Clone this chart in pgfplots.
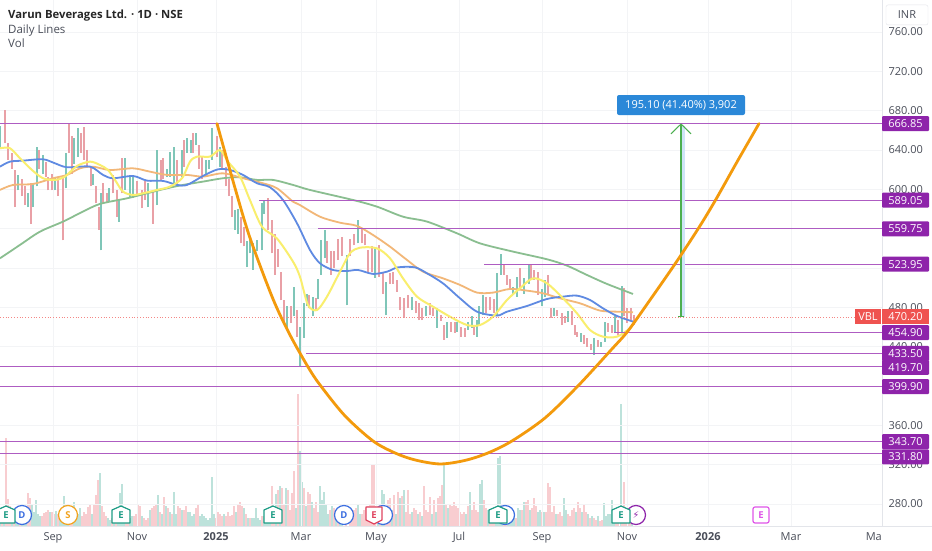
\documentclass[border=0pt]{standalone}
\usepackage{pgfplots}
\usepackage{pgfplotstable}
\usepackage{fontspec}
\setmainfont{Open Sans}
\pgfplotsset{compat=1.18}
\definecolor{txt}{HTML}{4A4E59}
\definecolor{gridc}{HTML}{F3F4F6}
\definecolor{frame}{HTML}{E3E5EA}
\definecolor{cup}{HTML}{7FC6B8}
\definecolor{cdn}{HTML}{E9A0A6}
\definecolor{vup}{HTML}{BDE2DB}
\definecolor{vdn}{HTML}{F8CDD0}
\definecolor{hline}{HTML}{AE5CC2}
\definecolor{tagp}{HTML}{8E24AA}
\definecolor{tagr}{HTML}{EF5350}
\definecolor{ema}{HTML}{F9EE6D}
\definecolor{bma}{HTML}{5F8AE2}
\definecolor{oma}{HTML}{F2B778}
\definecolor{gma}{HTML}{8ABE90}
\definecolor{cupc}{HTML}{F39A0C}
\definecolor{mgreen}{HTML}{4CAF50}
\definecolor{mband}{HTML}{CFE4F7}
\definecolor{callout}{HTML}{2B88D8}
\definecolor{badgeE}{HTML}{1F9D86}
\definecolor{badgeD}{HTML}{3D6FE0}
\definecolor{badgeS}{HTML}{F2A31E}
\definecolor{badgeR}{HTML}{E04560}
\definecolor{badgeM}{HTML}{E056E8}
\pgfplotstableread{
x lo hi c
0 642 664 1
5 647 681 0
8 630 647 0
12 621 637 0
15 582 620 0
18 599 615 1
22 593 611 0
25 584 603 0
28 582 596 1
31 565 606 0
33 582 606 1
37 603 643 1
39 621 640 0
43 616 635 1
46 613 628 0
48 599 613 0
52 599 616 0
55 599 613 1
58 593 613 0
63 548 613 0
66 601 637 1
69 637 667 0
72 616 654 0
74 626 652 1
78 633 662 1
81 637 657 0
84 630 663 0
87 623 640 0
91 603 623 0
93 604 616 1
96 586 603 0
99 559 582 0
101 538 596 1
103 586 606 0
107 586 596 0
109 587 601 1
113 596 615 0
117 572 599 0
119 567 589 1
122 596 632 0
125 599 632 1
130 591 615 1
133 591 615 1
137 593 608 0
142 581 599 0
145 589 608 0
148 582 606 1
153 565 598 0
157 584 640 1
161 610 630 0
163 611 632 0
167 613 621 1
170 613 638 1
174 604 643 1
177 603 630 0
182 613 640 1
184 623 650 0
187 637 652 1
191 637 650 1
193 637 657 0
196 645 657 1
199 621 645 0
202 611 633 0
206 615 630 1
209 621 630 1
212 630 662 1
217 633 654 0
220 623 643 1
222 620 640 0
226 603 623 0
229 593 611 0
232 572 593 0
235 559 579 1
238 555 580 1
241 545 572 0
244 542 562 0
247 521 547 1
250 535 549 1
253 518 545 1
257 537 549 1
262 538 586 1
264 575 589 1
268 559 591 0
272 535 569 0
275 513 555 0
278 521 539 0
281 487 516 0
284 464 487 0
287 457 481 1
291 464 481 0
294 471 501 1
297 450 477 0
300 420 460 1
304 449 484 1
307 481 494 1
309 479 493 0
313 471 491 1
316 477 489 0
318 488 509 1
321 513 549 1
325 530 559 1
327 525 547 0
331 513 537 0
334 520 537 0
338 528 550 0
342 532 552 0
347 482 533 1
350 532 550 0
354 543 555 0
358 545 569 1
362 545 560 0
365 543 555 0
368 516 538 0
372 516 542 0
375 510 540 1
379 511 543 0
383 494 515 0
386 472 506 1
390 504 515 0
393 504 516 0
397 496 508 0
400 477 491 0
404 469 489 0
408 479 493 0
412 477 491 1
416 474 486 0
419 467 484 0
422 467 479 0
426 471 481 1
430 472 484 0
433 471 479 0
437 459 479 1
441 466 472 0
444 447 462 0
447 449 465 1
451 455 465 0
455 454 465 0
457 455 465 1
461 450 460 0
465 450 459 0
468 457 465 1
472 459 471 1
474 452 460 0
477 450 467 1
479 462 481 1
483 472 493 1
486 474 491 0
490 477 491 0
494 474 488 0
497 471 515 1
501 513 534 1
504 513 523 0
507 503 513 0
510 498 509 0
513 493 501 1
517 491 511 1
520 499 520 0
524 494 510 1
529 504 523 1
531 508 523 0
534 508 518 0
538 493 516 0
542 481 499 1
545 491 508 1
548 494 513 0
551 469 479 0
554 471 479 1
557 471 477 0
562 462 474 0
565 464 471 0
568 465 476 1
572 462 476 0
575 452 462 0
577 450 455 0
581 445 454 1
584 443 452 0
587 440 449 0
591 437 443 0
594 432 449 1
598 440 447 0
601 440 445 1
605 445 465 1
608 455 464 0
612 454 462 0
615 455 471 1
618 452 467 0
622 455 502 1
624 471 500 0
627 464 479 0
631 467 479 0
634 462 472 0
}\candles
\newcommand\hl[2]{\addplot[hline,line width=0.9pt,forget plot] coordinates {(#1,#2)(882,#2)};}
\newcommand\tagp[2]{\node[fill=tagp,text=white,font=\fontsize{11}{11}\selectfont,minimum width=47pt,minimum height=15pt,inner sep=0pt,rounded corners=1pt] at (axis cs:905.5,#1) {#2};}
\newcommand\ebadge[3]{\draw[#3,fill=white,line width=1.2pt,line join=round] (axis cs:#1,#2) ++(0pt,9pt) -- ++(9pt,-4pt) -- ++(0pt,-13pt) -- ++(-18pt,0pt) -- ++(0pt,13pt) -- cycle;
\node[text=#3,font=\fontsize{9.5}{10}\bfseries\selectfont,inner sep=0pt] at (axis cs:#1,#2) {E};}
\newcommand\cbadge[4]{\node[circle,draw=#3,fill=white,line width=1.2pt,minimum size=19pt,inner sep=0pt,text=#3,font=\fontsize{9.5}{10}\bfseries\selectfont] at (axis cs:#1,#2) {#4};}
\begin{document}
\begin{tikzpicture}
\useasboundingbox (0pt,0pt) rectangle (932pt,550pt);
\fill[white] (0pt,0pt) rectangle (932pt,550pt);
% volume pane
\begin{axis}[at={(0pt,24pt)},anchor=south west,width=882pt,height=526pt,scale only axis,
 xmin=0,xmax=882,ymin=0,ymax=526,hide axis,clip=true]
\addplot[ycomb,vup,line width=1.1pt,no marks] coordinates {(0,16)(4,10)(12,18)(16,10)(18,14)(22,10)(24,8)(26,14)(32,22)(34,14)(36,26)(38,12)(40,10)(50,14)(56,15)(60,12)(62,10)(64,30)(66,22)(68,12)(74,24)(76,12)(78,12)(80,18)(92,12)(100,53)(108,8)(110,6)(114,12)(118,14)(120,33)(122,42)(124,12)(130,8)(132,10)(142,10)(150,16)(158,31)(162,12)(166,20)(170,14)(174,34)(176,12)(182,16)(188,14)(190,14)(192,10)(194,12)(200,10)(202,12)(204,10)(206,8)(208,6)(210,8)(212,49)(214,12)(224,12)(236,14)(244,18)(248,8)(252,8)(254,8)(256,18)(258,8)(260,6)(264,10)(266,14)(268,14)(270,14)(276,32)(280,40)(286,38)(296,18)(300,75)(302,44)(306,20)(312,24)(320,40)(322,26)(324,34)(326,22)(328,12)(332,20)(336,12)(340,18)(342,14)(358,22)(360,12)(378,14)(382,36)(384,32)(392,16)(396,12)(400,28)(404,36)(412,14)(418,12)(422,10)(432,12)(436,14)(444,63)(448,18)(466,12)(470,34)(480,42)(482,46)(488,16)(496,16)(498,68)(500,70)(502,14)(508,12)(510,14)(512,10)(514,14)(518,18)(520,16)(524,24)(530,16)(538,14)(540,16)(544,14)(556,12)(564,28)(566,16)(576,14)(582,14)(588,12)(592,10)(598,10)(604,23)(606,10)(608,12)(610,12)(612,26)(614,14)(621,122)(632,10)};
\addplot[ycomb,vdn,line width=1.1pt,no marks] coordinates {(2,14)(6,88)(8,27)(10,20)(14,12)(20,12)(28,33)(30,28)(42,10)(44,13)(46,14)(48,16)(52,14)(54,12)(58,12)(70,12)(72,14)(82,10)(84,14)(86,12)(88,19)(90,22)(94,22)(96,31)(98,46)(102,20)(104,14)(106,10)(112,8)(116,10)(126,10)(128,6)(134,10)(136,12)(138,22)(140,20)(144,8)(146,6)(148,8)(152,18)(154,20)(156,22)(160,14)(164,29)(168,18)(172,12)(178,20)(180,18)(184,16)(186,20)(196,18)(198,22)(216,8)(218,14)(220,12)(222,10)(226,10)(228,14)(230,10)(232,11)(234,20)(238,22)(240,24)(242,20)(246,12)(250,8)(262,10)(272,40)(274,14)(278,36)(282,38)(284,22)(288,36)(290,16)(292,33)(294,55)(298,132)(304,38)(308,34)(310,32)(314,18)(316,24)(318,14)(330,16)(334,18)(338,12)(346,10)(350,10)(352,12)(354,16)(356,18)(362,12)(364,16)(366,18)(368,20)(370,22)(372,62)(374,62)(376,20)(380,22)(386,20)(388,26)(390,28)(394,31)(398,34)(402,30)(406,14)(408,36)(410,12)(414,18)(416,16)(420,14)(424,40)(426,16)(428,14)(430,29)(434,26)(438,28)(440,30)(442,41)(446,22)(450,22)(452,20)(454,24)(456,20)(458,18)(460,14)(462,12)(464,14)(468,20)(472,16)(474,24)(476,16)(478,14)(484,26)(486,18)(490,12)(492,10)(494,8)(504,12)(506,10)(516,8)(522,16)(526,24)(528,26)(532,18)(534,28)(536,20)(542,14)(546,14)(548,43)(550,39)(552,14)(554,20)(558,12)(560,14)(562,10)(568,12)(570,10)(572,16)(574,18)(578,24)(580,18)(584,22)(586,14)(590,8)(594,8)(596,6)(600,5)(602,6)(616,10)(618,14)(622,10)(624,44)(626,14)(628,10)(630,8)};
\end{axis}
% price pane
\begin{axis}[at={(0pt,24pt)},anchor=south west,width=882pt,height=526pt,scale only axis,
 xmin=0,xmax=882,ymin=257.6,ymax=792.6,clip=false,
 axis x line*=bottom,axis y line*=right,
 axis line style={draw=frame,line width=0.8pt,-},
 major tick length=0pt,
 xtick={53,137,216,301,376,459,542,627,708,791},
 xticklabels={Sep,Nov,\textbf{2025},Mar,May,Jul,Sep,Nov,\textbf{2026},Mar},
 ytick={280,320,360,400,440,480,520,560,600,640,680,720,760},
 yticklabels={280.00,320.00,360.00,,440.00,480.00,,,600.00,640.00,680.00,720.00,760.00},
 grid=major,major grid style={gridc,line width=0.7pt},
 yticklabel pos=right,
 ticklabel style={font=\fontsize{11}{11}\selectfont,text=txt},
 xticklabel style={yshift=-3pt},
 yticklabel style={xshift=3pt},
]
% candles
\addplot[draw=none,no marks,x filter/.expression={\thisrow{c}==0 ? x : nan},
 error bars/.cd,y dir=plus,y explicit,error mark=none,error bar style={cdn,line width=1.2pt}]
 table[x=x,y=lo,y error plus expr=\thisrow{hi}-\thisrow{lo}] {\candles};
\addplot[draw=none,no marks,x filter/.expression={\thisrow{c}==1 ? x : nan},
 error bars/.cd,y dir=plus,y explicit,error mark=none,error bar style={cup,line width=1.2pt}]
 table[x=x,y=lo,y error plus expr=\thisrow{hi}-\thisrow{lo}] {\candles};
% moving averages
\addplot[gma,line width=1.8pt,smooth,no marks] coordinates {(0,529.9)(20,543.5)(40,557)(63,567.2)(83,577.4)(100,585.2)(127,590.9)(147,596)(167,601.1)(183,604.5)(203,607.9)(223,611.3)(240,612.3)(257,609.6)(273,609.6)(293,604.5)(310,599.4)(353,589.2)(377,582.4)(403,572.2)(427,567.2)(457,555.3)(480,545.1)(513,536.7)(547,528.9)(567,522.4)(587,512.9)(607,503.8)(633,493.6)};
\addplot[oma,line width=1.8pt,smooth,no marks] coordinates {(0,599.4)(13,604.5)(33,605.5)(53,611.3)(67,614.7)(80,621.4)(93,623.1)(110,619.7)(133,621.4)(150,618)(167,614.7)(187,614.7)(203,613)(223,616.3)(243,611.3)(263,606.2)(277,601.1)(293,587.5)(300,584)(320,572.2)(340,566.1)(357,562.8)(373,553.6)(390,541.7)(407,528.2)(423,516.3)(443,509.5)(460,502.8)(477,495)(493,495)(510,498.7)(527,497)(543,494.3)(560,489.2)(580,484.1)(600,476.7)(617,475.6)(633,475)};
\addplot[bma,line width=1.8pt,smooth,no marks] coordinates {(0,623.1)(10,628.2)(23,629.2)(43,630.6)(55,626.5)(67,622.5)(90,623.1)(103,614.7)(113,611.3)(133,613.6)(147,608.9)(163,608.6)(177,604.5)(187,604.5)(203,613.6)(218,620.4)(230,619.7)(243,614.7)(257,606.2)(270,602.1)(283,589.2)(297,565.5)(310,538.3)(320,524.8)(333,518)(347,517)(358,518)(373,514)(387,516.3)(398,520.7)(415,520.7)(427,514.6)(443,504.4)(460,489.2)(477,475.6)(497,471.6)(507,475.6)(527,481.4)(547,488.5)(563,490.9)(577,491.9)(590,487.5)(603,479)(617,471.2)(633,465.5)};
\addplot[ema,line width=2pt,smooth,no marks] coordinates {(0,641.8)(10,641.8)(20,631.6)(32,619.7)(43,611.3)(55,609.6)(65,613)(77,623.8)(90,628.2)(100,624.8)(108,619.7)(115,609.6)(123,597.7)(133,594.3)(143,596)(157,599.4)(170,602.8)(182,611.3)(190,628.2)(197,633.3)(210,633.3)(220,640)(228,628.2)(240,613)(250,589)(262,562)(277,550)(293,526.5)(300,511)(308,482.4)(317,477.3)(327,490.9)(340,516.3)(350,535)(360,540.7)(377,540)(390,529.9)(403,509.5)(417,490.9)(433,480.7)(450,470.5)(467,462)(480,462)(493,470.5)(507,487.5)(520,499.4)(533,509.5)(547,504.4)(563,489.2)(577,473.9)(590,457)(603,450.2)(617,450.2)(630,458.7)(634,465)};
% horizontal levels
\hl{0}{666.85}\hl{259}{589.05}\hl{318}{559.75}\hl{484}{523.95}\hl{614}{454.90}\hl{306}{433.50}\hl{0}{419.70}\hl{0}{399.90}\hl{0}{343.70}\hl{0}{331.80}
% last price
\addplot[tagr!70!white,line width=0.8pt,dotted] coordinates {(0,470.2)(882,470.2)};
% measure
\addplot[mband,line width=3pt] coordinates {(683,470.2)(683,664)};
\addplot[mgreen,line width=1.5pt] coordinates {(681,470.2)(681,665.5)};
\addplot[mgreen,line width=1pt] coordinates {(671,656.5)(681,666.5)(691,656.5)};
\addplot[mgreen,line width=1pt] coordinates {(678,470.2)(684,470.2)};
% cup curve
\addplot[cupc,line width=2.8pt,smooth,no marks,line cap=round] coordinates {(217,666.85)(235,601.4)(250,550.6)(273,488.5)(290,451.9)(308,419.4)(320,401.1)(345,369.6)(373,344.1)(395,331.9)(415,324.8)(440,320.7)(465,324.3)(488,331.9)(512,344.1)(545,367.5)(578,400.1)(612,437.7)(628,456)(650,487.5)(675,524.1)(698,559.7)(715,588.2)(737,627.9)(759,666.85)};
% right-hand tags
\tagp{666.85}{666.85}\tagp{589.05}{589.05}\tagp{559.75}{559.75}\tagp{523.95}{523.95}
\tagp{454.40}{454.90}\tagp{433.2}{433.50}\tagp{418.9}{419.70}\tagp{399.4}{399.90}
\tagp{343.4}{343.70}\tagp{328}{331.80}
\node[fill=tagr,text=white,font=\fontsize{11}{11}\selectfont,minimum width=47pt,minimum height=15pt,inner sep=0pt] at (axis cs:905.5,470.2) {470.20};
\node[fill=tagr,text=white,font=\fontsize{11}{11}\selectfont,minimum width=26pt,minimum height=15pt,inner sep=0pt] at (axis cs:868,470.2) {VBL};
% callout
\node[fill=callout,text=white,font=\fontsize{11}{11}\selectfont,minimum width=128pt,minimum height=20pt,inner sep=0pt,rounded corners=2pt] at (axis cs:681,685.8) {195.10 (41.40\%) 3,902};
% header
\node[anchor=west,text=black!85,font=\fontsize{11.3}{12}\bfseries\selectfont,inner sep=0pt] at (axis cs:8,777) {Varun Beverages Ltd. · 1D · NSE};
\node[anchor=west,text=txt,font=\fontsize{11.5}{12}\selectfont,inner sep=0pt] at (axis cs:8,762) {Daily Lines};
\node[anchor=west,text=txt,font=\fontsize{11.5}{12}\selectfont,inner sep=0pt] at (axis cs:8,749) {Vol};
% INR box
\node[draw=frame,fill=white,rounded corners=2pt,text=txt,font=\fontsize{11}{11}\selectfont,minimum width=42pt,minimum height=20pt,inner sep=0pt] at (axis cs:907,777.4) {INR};
% clipped tick label and bottom rule
\node[anchor=east,text=txt,font=\fontsize{11}{11}\selectfont,inner sep=0pt] at (axis cs:882,246.5) {Ma};
\addplot[frame,line width=0.8pt] coordinates {(882,257.6)(932,257.6)};
% event badges
\cbadge{22}{268.8}{badgeD}{D}
\ebadge{6}{268.8}{badgeE}
\cbadge{68}{268.8}{badgeS}{S}
\ebadge{121}{268.8}{badgeE}
\ebadge{273}{268.8}{badgeE}
\cbadge{344}{268.8}{badgeD}{D}
\cbadge{383}{268.8}{badgeD}{}
\draw[badgeR,fill=white,line width=1.2pt,line join=round] (axis cs:374,268.8) ++(-8pt,8pt) -- ++(16pt,0pt) -- ++(0pt,-13pt) -- ++(-8pt,-4pt) -- ++(-8pt,4pt) -- cycle;
\node[text=badgeR,font=\fontsize{9.5}{10}\bfseries\selectfont,inner sep=0pt] at (axis cs:374,268.8) {E};
\cbadge{505}{268.8}{badgeD}{}
\ebadge{498}{268.8}{badgeE}
\cbadge{636}{268.8}{tagp}{\fontspec{DejaVu Sans}\char"26A1}
\ebadge{621}{268.8}{badgeE}
\draw[badgeM,fill=white,line width=1.2pt,rounded corners=2pt] (axis cs:753,268.8) ++(0pt,8pt) rectangle ++(16pt,-16pt);
\node[text=badgeM,font=\fontsize{9.5}{10}\bfseries\selectfont,inner sep=0pt] at (axis cs:761,268.8) {E};
\end{axis}
\end{tikzpicture}
\end{document}
